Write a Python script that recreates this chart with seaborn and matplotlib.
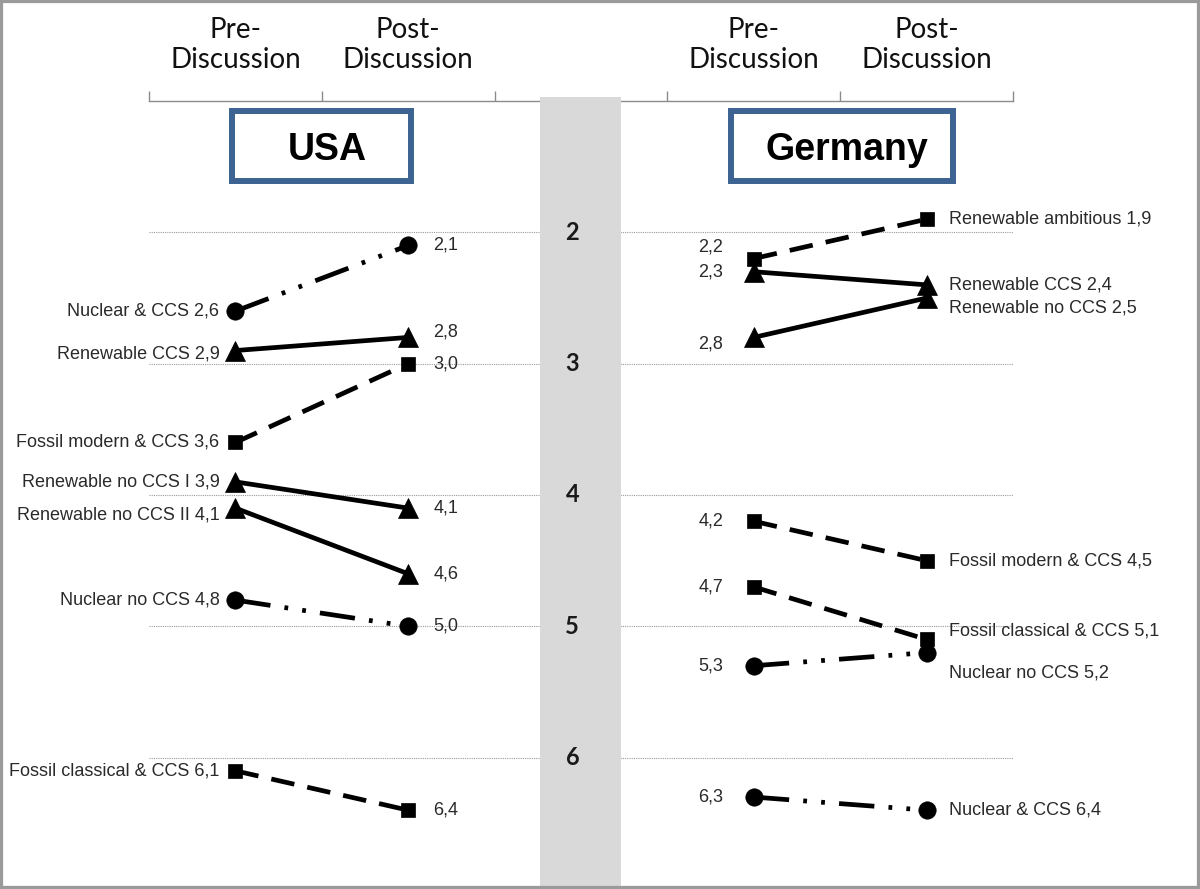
import pandas as pd
import matplotlib.pyplot as plt
import seaborn as sns
from matplotlib.patches import Rectangle

# Mean ranks (1 = most preferred)
usa_options = ['Nuclear & CCS', 'Renewable CCS', 'Fossil modern & CCS', 'Renewable no CCS I',
               'Renewable no CCS II', 'Nuclear no CCS', 'Fossil classical & CCS']
usa_pre = [2.6, 2.9, 3.6, 3.9, 4.1, 4.8, 6.1]
usa_post = [2.1, 2.8, 3.0, 4.1, 4.6, 5.0, 6.4]
usa_kind = ['nuclear', 'renewable', 'fossil', 'renewable', 'renewable', 'nuclear', 'fossil']

ger_options = ['Renewable ambitious', 'Renewable CCS', 'Renewable no CCS', 'Fossil modern & CCS',
               'Fossil classical & CCS', 'Nuclear no CCS', 'Nuclear & CCS']
ger_pre = [2.2, 2.3, 2.8, 4.2, 4.7, 5.3, 6.3]
ger_post = [1.9, 2.4, 2.5, 4.5, 5.1, 5.2, 6.4]
ger_kind = ['fossil', 'renewable', 'renewable', 'fossil', 'fossil', 'nuclear', 'nuclear']

countries = ['USA', 'Germany']
phases = ['Pre-\nDiscussion', 'Post-\nDiscussion']
rank_ticks = [2, 3, 4, 5, 6]

# marker / line style per scenario type
styles = {
    'nuclear': dict(marker='o', markersize=12.5, linestyle=(0, (7.5, 3, 0.8, 3, 0.8, 3))),
    'renewable': dict(marker='^', markersize=14, linestyle='-'),
    'fossil': dict(marker='s', markersize=9.5, linestyle=(0, (5, 2.8))),
}

# small vertical nudges (pixels, + = down) so labels don't collide
nudge = {
    ('USA', 'Renewable CCS', 0): 3, ('USA', 'Renewable no CCS II', 0): 7,
    ('USA', 'Renewable CCS', 1): -5,
    ('Germany', 'Renewable ambitious', 0): -12, ('Germany', 'Renewable no CCS', 0): 7,
    ('Germany', 'Renewable no CCS', 1): 10, ('Germany', 'Fossil classical & CCS', 1): -8,
    ('Germany', 'Nuclear no CCS', 1): 20,
}

rows = []
for country, opts, pre, post, kind in [('USA', usa_options, usa_pre, usa_post, usa_kind),
                                        ('Germany', ger_options, ger_pre, ger_post, ger_kind)]:
    for o, a, b, k in zip(opts, pre, post, kind):
        rows.append(dict(country=country, option=o, phase=0, rank=a, kind=k))
        rows.append(dict(country=country, option=o, phase=1, rank=b, kind=k))
df = pd.DataFrame(rows)
df['x'] = df['phase'] + 0.5 + df['country'].map({'USA': 0, 'Germany': 3})

sns.set_style('white')
plt.rcParams['font.family'] = ['Liberation Sans', 'DejaVu Sans']

fig = plt.figure(figsize=(12, 8.89), dpi=100)
ax = fig.add_axes([149 / 1200, 0, 864 / 1200, 788 / 889])

# dotted rank gridlines
ax.hlines(rank_ticks, 0, 5, colors='#9a9a9a', linestyles=(0, (1, 1)), linewidth=0.8, zorder=1)

# grey centre band with rank numbers
ax.add_patch(Rectangle((2.265, 0.97), 0.465, 6.1, facecolor='#d9d9d9', edgecolor='none',
                       clip_on=False, zorder=3))
for r in rank_ticks:
    ax.text(2.45, r, str(r), ha='center', va='center', fontsize=17, fontweight='bold',
            family=['Lato', 'DejaVu Sans'], color='#1a1a1a', zorder=4)

# lines
for (country, option), g in df.groupby(['country', 'option'], sort=False):
    st = styles[g['kind'].iloc[0]]
    sns.lineplot(data=g, x='x', y='rank', ax=ax, color='black', linewidth=3.4,
                 marker=st['marker'], markersize=st['markersize'], linestyle=st['linestyle'],
                 markeredgecolor='black', markeredgewidth=0.5, zorder=5)

# labels
for _, r in df.iterrows():
    val = f"{r['rank']:.1f}".replace('.', ',')
    dy = -nudge.get((r['country'], r['option'], r['phase']), 0) * 0.72
    left = r['phase'] == 0
    full = (r['country'] == 'USA') == left
    txt = f"{r['option']} {val}" if full else val
    if r['country'] == 'USA':
        dx = -11.5 if left else 18
    else:
        dx = -22 if left else 16
    ax.annotate(txt, (r['x'], r['rank']), xytext=(dx, dy), textcoords='offset points',
                ha='right' if left else 'left', va='center', fontsize=13, color='#2a2a2a')

# country boxes
for name, cx, w in [('USA', 1.0, 1.036), ('Germany', 4.01, 1.285)]:
    ax.add_patch(Rectangle((cx - w / 2, 1.076), w, 0.534, facecolor='white',
                           edgecolor='#3c6391', linewidth=4.3, zorder=4))
    ax.text(cx + 0.03, 1.37, name, ha='center', va='center', fontsize=27,
            fontweight='bold', color='black', zorder=5)

ax.set_xlim(0, 5)
ax.set_ylim(7.0, 1.0)
ax.set_xlabel('')
ax.set_ylabel('')
ax.set_yticks([])
ax.xaxis.tick_top()
ax.set_xticks([0, 1, 2, 3, 4, 5])
ax.set_xticklabels([])
ax.set_xticks([0.5, 1.5, 3.5, 4.5], minor=True)
ax.set_xticklabels(phases * 2, minor=True, fontsize=20, family=['Lato', 'DejaVu Sans'],
                   linespacing=1.2, color='#111111')
ax.tick_params(axis='x', which='major', length=7, width=1, color='#8c8c8c', direction='out', top=True)
ax.tick_params(axis='x', which='minor', length=0, pad=20, top=True)
for s in ['left', 'right', 'bottom']:
    ax.spines[s].set_visible(False)
ax.spines['top'].set_color('#8c8c8c')
ax.spines['top'].set_linewidth(1)
ax.set_facecolor('none')

# outer frame
fig.patches.append(Rectangle((0, 0), 1, 1, transform=fig.transFigure, fill=False,
                             edgecolor='#9a9a9a', linewidth=4.5, zorder=0))

fig.savefig('out.png', dpi=100)
